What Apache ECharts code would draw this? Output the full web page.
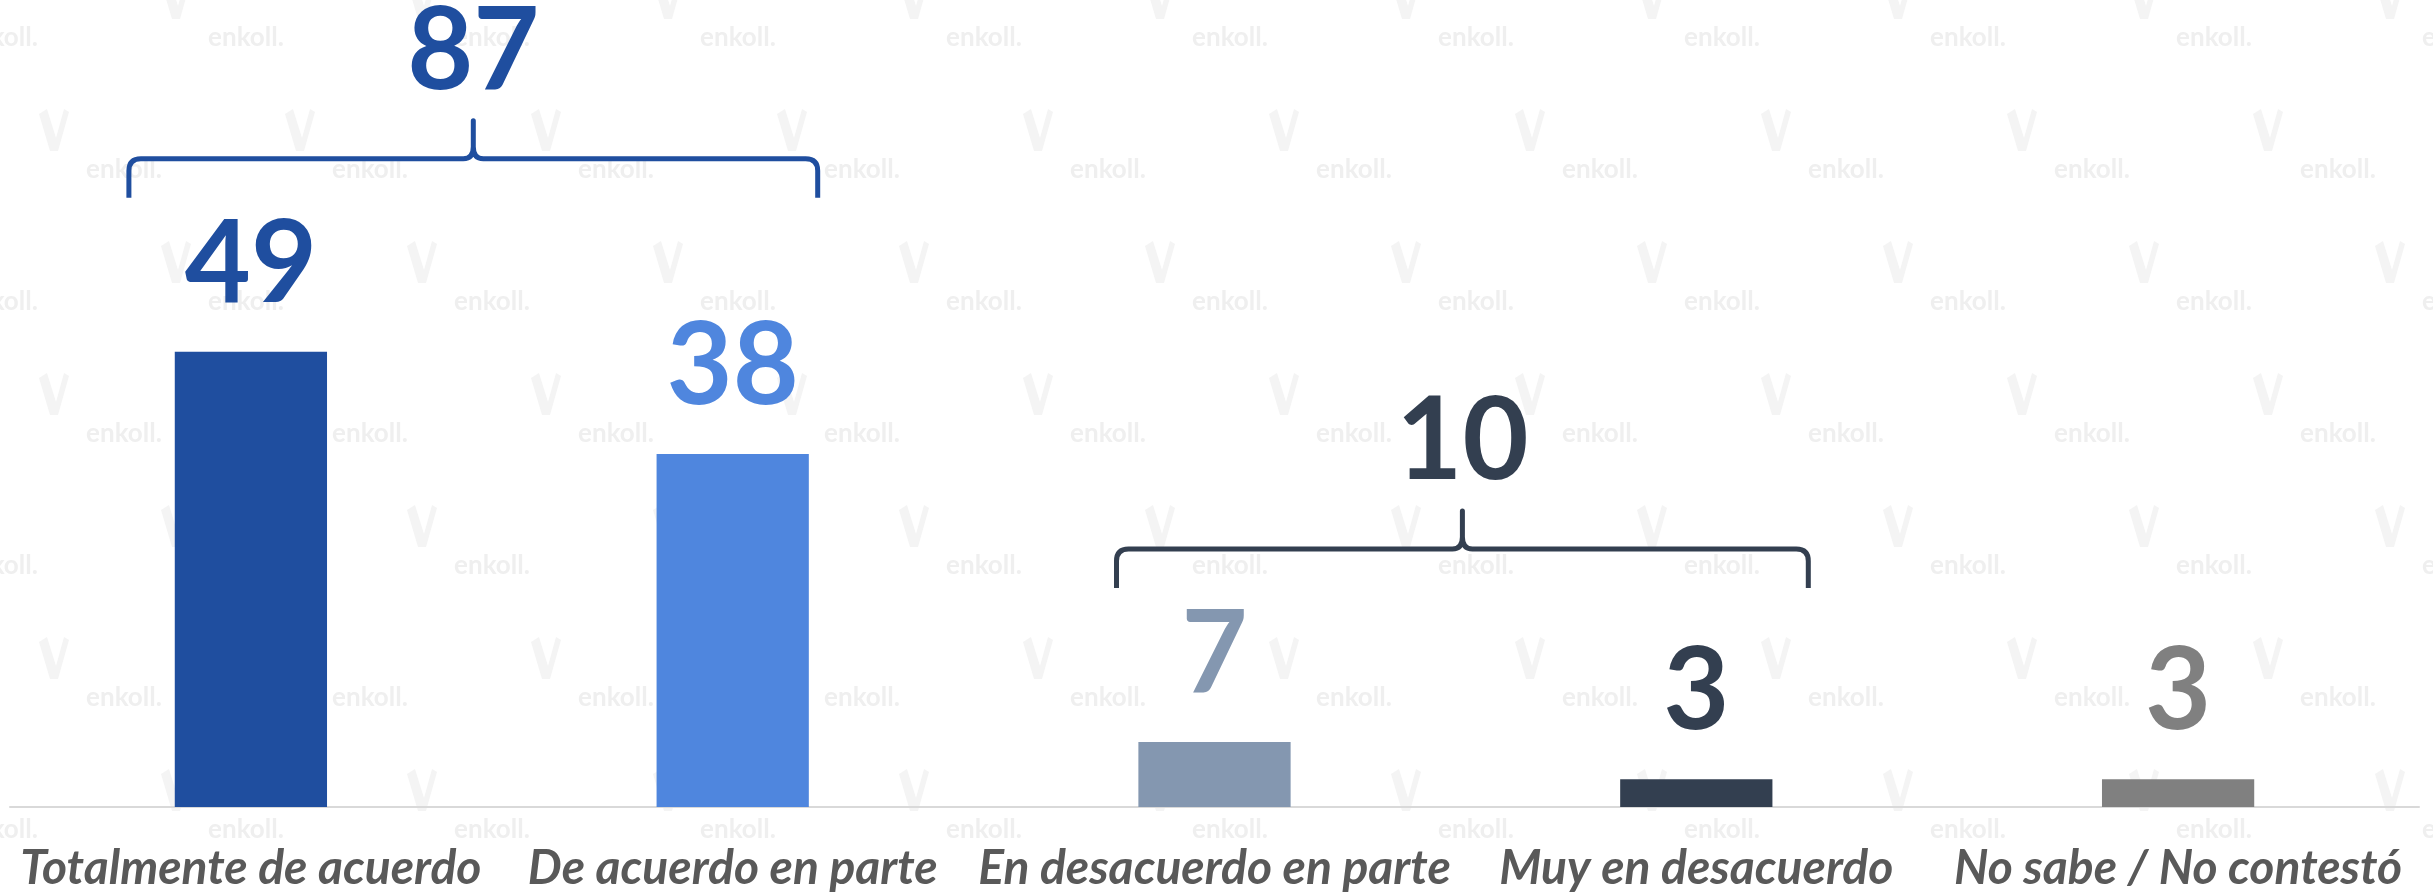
<!DOCTYPE html>
<html>
<head>
<meta charset="utf-8">
<script src="https://cdn.jsdelivr.net/npm/echarts@6/dist/echarts.min.js"></script>
<style>
  html, body { margin: 0; padding: 0; background: #fff; }
  #chart { width: 2433px; height: 893px; }
</style>
</head>
<body>
<div id="chart"></div>
<script>
const categories = ['Totalmente de acuerdo', 'De acuerdo en parte', 'En desacuerdo en parte', 'Muy en desacuerdo', 'No sabe / No contestó']
const values = [49, 38, 7, 3, 3]
const barColors = ['#1F4E9F', '#4F86DE', '#8497B0', '#333F50', '#808080']

// sumas de grupos (llaves)
const groupFirst = [0, 2]
const groupLast = [1, 3]
const groupTotals = [87, 10]
const groupColors = ['#1F4E9F', '#333F50']

// ajustes de dibujo de las llaves, en px
const bracketPads = [[-122, 85], [-98, 112]]
const bracketGap = 193

const font = 'Lato'

let chart = echarts.init(document.getElementById('chart'))

// marca de agua
let marks = []
for (let r = 0; r < 7; r++) {
    let y = 38 + r * 132
    let x0 = r % 2 === 0 ? 0 : 124
    for (let x = x0; x < 2500; x += 246) {
        marks.push({
            type: 'text',
            x: x,
            y: y,
            z: -10,
            silent: true,
            style: {
                text: 'enkoll.',
                fill: '#EFEFEF',
                font: 'bold 26px ' + font,
                align: 'center',
                verticalAlign: 'middle'
            }
        })
        marks.push({
            type: 'polygon',
            x: x - 70,
            y: y - 40,
            z: -10,
            silent: true,
            shape: { points: [[-15, -16], [-7, -21], [2, 8], [10, -21], [15, -18], [4, 21], [-4, 21]] },
            style: { fill: '#F4F4F4' }
        })
    }
}

let option = {
    animation: false,
    backgroundColor: '#fff',
    graphic: marks,
    grid: { left: 10, right: 14, top: 8, bottom: 85 },
    xAxis: {
        type: 'category',
        data: categories,
        axisTick: { show: false },
        axisLine: { lineStyle: { color: '#D9D9D9', width: 2 } },
        axisLabel: {
            interval: 0,
            margin: 38,
            color: '#595959',
            fontSize: 48,
            fontStyle: 'italic',
            fontWeight: 'bold',
            fontFamily: font
        }
    },
    yAxis: {
        type: 'value',
        min: 0,
        max: 86,
        show: false,
        splitLine: { show: false }
    },
    series: [
        {
            type: 'bar',
            barWidth: '31.6%',
            data: values.map((v, i) => ({
                value: v,
                itemStyle: { color: barColors[i] },
                label: { color: barColors[i] }
            })),
            label: {
                show: true,
                position: 'top',
                distance: 30,
                fontSize: 114,
                fontWeight: 'bold',
                fontFamily: font
            }
        },
        {
            type: 'custom',
            clip: false,
            silent: true,
            encode: { x: [0, 1], y: 2 },
            data: groupTotals.map((t, i) => [groupFirst[i], groupLast[i], t]),
            renderItem: function (params, api) {
                let i = params.dataIndex
                let first = api.value(0)
                let last = api.value(1)
                let top = Math.max(...values.slice(first, last + 1))
                let p1 = api.coord([first, top])
                let p2 = api.coord([last, 0])
                let L = p1[0] + bracketPads[i][0]
                let R = p2[0] + bracketPads[i][1]
                let C = (L + R) / 2
                let y = p1[1] - bracketGap
                let d = 'M' + L + ',' + (y + 39) + ' L' + L + ',' + (y + 12) +
                    ' Q' + L + ',' + y + ' ' + (L + 12) + ',' + y +
                    ' L' + (C - 10) + ',' + y +
                    ' Q' + C + ',' + y + ' ' + C + ',' + (y - 12) +
                    ' L' + C + ',' + (y - 38) +
                    ' L' + C + ',' + (y - 12) +
                    ' Q' + C + ',' + y + ' ' + (C + 10) + ',' + y +
                    ' L' + (R - 12) + ',' + y +
                    ' Q' + R + ',' + y + ' ' + R + ',' + (y + 12) +
                    ' L' + R + ',' + (y + 39)
                return {
                    type: 'group',
                    children: [
                        {
                            type: 'path',
                            shape: { pathData: d },
                            style: {
                                fill: 'none',
                                stroke: groupColors[i],
                                lineWidth: 5,
                                lineJoin: 'round'
                            }
                        },
                        {
                            type: 'text',
                            style: {
                                text: String(api.value(2)),
                                x: C,
                                y: y - 50,
                                align: 'center',
                                verticalAlign: 'bottom',
                                fill: groupColors[i],
                                fontSize: 114,
                                fontWeight: 'bold',
                                fontFamily: font
                            }
                        }
                    ]
                }
            }
        }
    ]
}

chart.setOption(option)
</script>
</body>
</html>
